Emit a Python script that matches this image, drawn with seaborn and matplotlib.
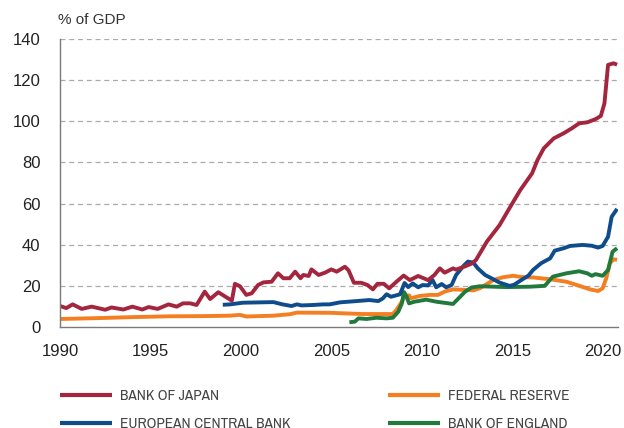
import numpy as np
import pandas as pd
import matplotlib
matplotlib.use("Agg")
import matplotlib.pyplot as plt
import seaborn as sns

# ---------------- data ----------------
boj_year = [1990.0, 1990.35, 1990.7, 1991.2, 1991.75, 1992.2, 1992.5, 1992.85, 1993.5, 1994.0,
            1994.55, 1994.9, 1995.4, 1996.0, 1996.45, 1996.8, 1997.2, 1997.55, 1998.0, 1998.3,
            1998.75, 1999.5, 1999.67, 1999.95, 2000.3, 2000.6, 2000.95, 2001.25, 2001.7, 2002.05,
            2002.35, 2002.7, 2003.0, 2003.3, 2003.45, 2003.75, 2003.9, 2004.3, 2004.65, 2005.0,
            2005.3, 2005.75, 2005.95, 2006.25, 2006.65, 2007.0, 2007.3, 2007.55, 2007.9, 2008.2,
            2008.6, 2009.0, 2009.34, 2009.8, 2010.35, 2010.7, 2011.0, 2011.27, 2011.73, 2011.9,
            2012.4, 2012.8, 2013.0, 2013.6, 2014.3, 2014.9, 2015.45, 2016.1, 2016.4, 2016.75,
            2017.3, 2017.85, 2018.3, 2018.7, 2019.15, 2019.6, 2019.9, 2020.1, 2020.3, 2020.6, 2020.8]
boj_value = [10.2, 9.2, 11.0, 8.8, 9.9, 9.0, 8.4, 9.5, 8.5, 9.9,
             8.5, 9.7, 8.8, 11.0, 9.9, 11.5, 11.5, 10.7, 17.2, 13.6,
             16.9, 12.8, 21.0, 19.8, 15.6, 16.4, 20.4, 21.7, 22.0, 26.1,
             23.7, 23.7, 26.9, 23.7, 25.3, 24.8, 28.0, 25.3, 26.4, 28.0,
             26.9, 29.3, 27.6, 21.5, 21.5, 20.4, 18.3, 21.0, 21.0, 18.8,
             22.0, 25.0, 22.8, 24.8, 22.8, 25.3, 28.5, 26.4, 28.5, 27.9,
             29.5, 31.0, 32.6, 41.5, 49.5, 58.5, 66.6, 74.7, 81.2, 86.9,
             91.7, 94.2, 96.6, 99.0, 99.5, 101.0, 102.6, 108.7, 127.4, 128.2, 127.5]

fed_year = [1990.0, 1992.0, 1994.0, 1996.0, 1998.0, 1999.4, 1999.95, 2000.3, 2001.8, 2002.7,
            2003.1, 2004.9, 2006.75, 2008.4, 2008.6, 2008.9, 2009.05, 2009.3, 2009.4, 2009.9,
            2010.45, 2010.9, 2011.27, 2011.73, 2012.45, 2012.85, 2013.2, 2013.6, 2013.95, 2014.5,
            2015.05, 2015.6, 2016.15, 2017.1, 2018.0, 2018.75, 2019.3, 2019.75, 2020.0, 2020.2,
            2020.4, 2020.6, 2020.8]
fed_value = [3.9, 4.3, 4.8, 5.2, 5.3, 5.5, 5.9, 5.1, 5.5, 6.2,
             7.0, 6.9, 6.3, 6.3, 8.3, 12.3, 14.8, 15.4, 14.0, 15.1,
             15.6, 15.6, 17.2, 18.3, 18.0, 17.8, 18.8, 20.9, 22.8, 24.2,
             24.9, 24.2, 24.1, 23.2, 22.0, 19.9, 18.3, 17.5, 18.8, 23.7,
             31.0, 32.9, 32.7]

ecb_year = [1999.0, 1999.4, 2000.1, 2001.2, 2001.8, 2002.3, 2002.8, 2003.1, 2003.35, 2004.0,
            2004.55, 2004.9, 2005.5, 2006.4, 2007.1, 2007.6, 2007.85, 2008.05, 2008.3, 2008.8,
            2009.05, 2009.25, 2009.5, 2009.8, 2010.05, 2010.35, 2010.6, 2010.8, 2011.1, 2011.35,
            2011.65, 2011.9, 2012.3, 2012.55, 2012.85, 2013.1, 2013.5, 2013.85, 2014.3, 2014.85,
            2015.1, 2015.5, 2015.9, 2016.15, 2016.6, 2017.1, 2017.35, 2017.85, 2018.2, 2018.9,
            2019.4, 2019.75, 2020.0, 2020.3, 2020.5, 2020.8]
ecb_value = [10.8, 11.0, 11.8, 12.0, 12.1, 11.0, 10.2, 11.0, 10.5, 10.7,
             11.0, 11.0, 12.0, 12.6, 13.1, 12.6, 13.9, 15.9, 14.7, 15.9,
             21.4, 19.4, 21.2, 19.3, 20.4, 20.2, 22.8, 19.3, 20.9, 19.3,
             20.4, 25.3, 29.6, 31.8, 31.3, 28.5, 25.3, 23.7, 21.6, 20.0,
             20.5, 22.8, 25.0, 27.7, 31.0, 33.4, 37.1, 38.3, 39.4, 39.9,
             39.5, 38.6, 39.4, 43.9, 53.6, 57.4]

boe_year = [2006.0, 2006.3, 2006.5, 2006.95, 2007.5, 2008.05, 2008.4, 2008.7, 2008.9, 2009.02,
            2009.15, 2009.3, 2009.6, 2010.25, 2010.8, 2011.73, 2012.1, 2012.4, 2012.75, 2013.2,
            2014.7, 2016.0, 2016.8, 2017.25, 2018.0, 2018.7, 2019.15, 2019.4, 2019.6, 2020.0,
            2020.3, 2020.55, 2020.8]
boe_value = [2.3, 2.6, 4.2, 3.9, 4.5, 4.2, 4.5, 7.4, 11.5, 17.0,
             15.0, 11.5, 12.3, 13.3, 12.3, 11.2, 14.5, 17.2, 19.2, 19.8,
             19.4, 19.6, 20.0, 24.5, 26.1, 27.1, 26.1, 24.9, 25.7, 24.9,
             27.7, 36.6, 38.3]

series_names = ["BANK OF JAPAN", "EUROPEAN CENTRAL BANK", "FEDERAL RESERVE", "BANK OF ENGLAND"]
series_colors = ["#A3263E", "#0F4C8C", "#F47E22", "#217A3B"]
x_ticks = [1990, 1995, 2000, 2005, 2010, 2015, 2020]
y_ticks = [0, 20, 40, 60, 80, 100, 120, 140]
y_label = "% of GDP"

# ---------------- build long table ----------------
frames = []
for name, xs, ys in zip(series_names,
                        [boj_year, ecb_year, fed_year, boe_year],
                        [boj_value, ecb_value, fed_value, boe_value]):
    frames.append(pd.DataFrame({"year": xs, "value": ys, "bank": name}))
df = pd.concat(frames, ignore_index=True)

# ---------------- plot ----------------
sns.set_theme(style="white")
plt.rcParams["font.family"] = ["Liberation Sans", "DejaVu Sans"]

fig = plt.figure(figsize=(6.24, 4.28), dpi=100)
ax = fig.add_axes([60 / 624, 1 - 327 / 428, 558 / 624, 288 / 428])

draw_order = ["FEDERAL RESERVE", "BANK OF ENGLAND", "EUROPEAN CENTRAL BANK", "BANK OF JAPAN"]
handles = {}
for name in draw_order:
    col = series_colors[series_names.index(name)]
    sns.lineplot(data=df[df["bank"] == name], x="year", y="value", ax=ax,
                 color=col, linewidth=2.8, solid_joinstyle="round",
                 solid_capstyle="butt", estimator=None, sort=True, label=name)
    handles[name] = ax.lines[-1]
if ax.get_legend() is not None:
    ax.get_legend().remove()

ax.set_xlim(1990, 2020.85)
ax.set_ylim(0, 140)
ax.set_xticks(x_ticks)
ax.set_yticks(y_ticks)
ax.set_xlabel("")
ax.set_ylabel("")

for y in y_ticks[1:]:
    ax.axhline(y, color="#aaaaaa", linewidth=0.9, linestyle=(0, (4, 3)), zorder=0)

for s in ["top", "right"]:
    ax.spines[s].set_visible(False)
for s in ["left", "bottom"]:
    ax.spines[s].set_color("#7a7a7a")
    ax.spines[s].set_linewidth(1.0)

ax.tick_params(axis="x", direction="in", length=5, width=1, color="#7a7a7a",
               pad=12, labelsize=12, labelcolor="#222222")
ax.tick_params(axis="y", length=0, pad=14, labelsize=12, labelcolor="#222222")

fig.text(58 / 624, 1 - 20 / 428, y_label, fontsize=11, color="#333333",
         ha="left", va="center")

# legend: one entry per position (two columns, two rows)
leg_fs = 11
leg_pos = {"BANK OF JAPAN": (60, 396.5), "EUROPEAN CENTRAL BANK": (60, 424.3),
           "FEDERAL RESERVE": (388, 396.5), "BANK OF ENGLAND": (388, 424.3)}
for name in series_names:
    px, py = leg_pos[name]
    lg = fig.legend([handles[name]], [name], loc="center left",
                    bbox_to_anchor=(px / 624, 1 - py / 428),
                    frameon=False, borderpad=0, borderaxespad=0,
                    handlelength=52 / (leg_fs * 100 / 72), handletextpad=0.5,
                    prop={"family": ["Archivo Narrow", "Liberation Sans Narrow", "DejaVu Sans"],
                          "size": leg_fs})
    for t in lg.get_texts():
        t.set_color("#444444")
    for l in lg.get_lines():
        l.set_linewidth(3.0)

fig.savefig("out.png", dpi=100)
